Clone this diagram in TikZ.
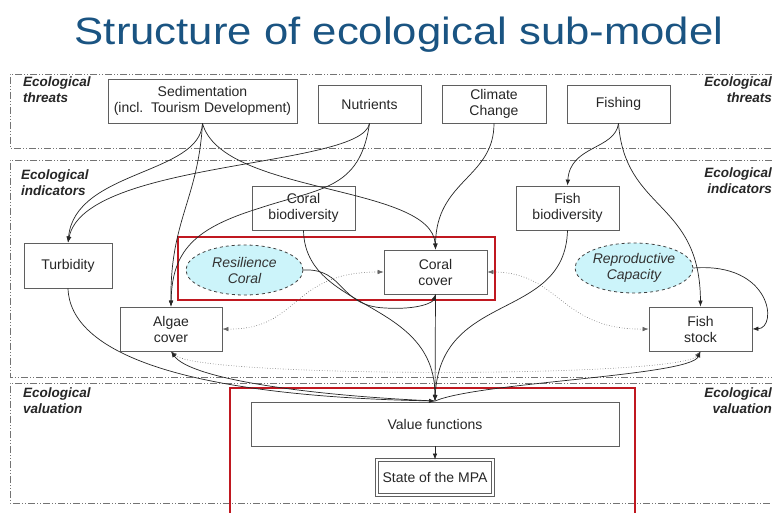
\documentclass[tikz,border=0pt]{standalone}
\usepackage{fontspec}
\setmainfont{Liberation Sans}
\usepackage{graphicx}
\usetikzlibrary{arrows.meta,shapes.geometric}
\definecolor{titleblue}{RGB}{26,84,130}
\definecolor{redbox}{RGB}{192,24,32}
\definecolor{ellfill}{RGB}{204,244,250}
\definecolor{boxgray}{RGB}{95,95,95}
\begin{document}
\begin{tikzpicture}[x=1pt,y=-1pt,
 box/.style={draw=boxgray, line width=0.8pt, fill=white, align=center, text=black!85, font=\fontsize{14}{16}\selectfont, inner sep=0pt},
 ell/.style={ellipse, draw=black!75, dashed, line width=0.8pt, fill=ellfill, align=center, font=\fontsize{14}{16}\selectfont\itshape, text=black!80, inner sep=0pt},
 conn/.style={line width=0.7pt, draw=black!85, -{Latex[length=6pt,width=4.5pt]}},
 dotconn/.style={line width=0.6pt, draw=black!60, dotted, {Latex[length=6pt,width=4.5pt]}-{Latex[length=6pt,width=4.5pt]}},
 band/.style={draw=black!55, line width=0.7pt, dash pattern=on 7pt off 2pt on 1pt off 2pt on 1pt off 2pt},
 lab/.style={font=\fontsize{13.5}{15.5}\selectfont\bfseries\itshape, text=black!85, inner sep=0pt},
 redb/.style={draw=redbox, line width=2.2pt}]
\useasboundingbox (0,0) rectangle (772,513);
\fill[white] (0,0) rectangle (772,513);

% title
\node[anchor=base, font=\fontsize{38}{40}\selectfont, text=titleblue, inner sep=0pt] (title) at (399,45) {\scalebox{1.15}[1]{Structure of ecological sub-model}};

% bands
\draw[band] (772,74) -- (10,74) -- (10,148) -- (772,148);
\draw[band] (772,160) -- (10,160) -- (10,377) -- (772,377);
\draw[band] (772,383) -- (10,383) -- (10,503) -- (772,503);

% band labels
\node[lab, anchor=north west, align=left] (lt) at (23,77) {Ecological\\threats};
\node[lab, anchor=north east, align=right] (rt) at (772,77) {Ecological\\threats};
\node[lab, anchor=north west, align=left] (li) at (21,170) {Ecological\\indicators};
\node[lab, anchor=north east, align=right] (ri) at (772,168) {Ecological\\indicators};
\node[lab, anchor=north west, align=left] (lv) at (23,388) {Ecological\\valuation};
\node[lab, anchor=north east, align=right] (rv) at (772,388) {Ecological\\valuation};

% nodes
\node[box, minimum width=189, minimum height=44] (sed) at (202.5,101) {Sedimentation\\(incl.\ \ Tourism Development)};
\node[box, minimum width=103, minimum height=38] (nut) at (369.5,104) {Nutrients};
\node[box, minimum width=104, minimum height=38] (cli) at (494,104) {Climate\\Change};
\node[box, minimum width=103, minimum height=38] (fish) at (618.5,104) {Fishing};
\node[box, minimum width=88, minimum height=45] (turb) at (68,265.5) {Turbidity};
\node[box, minimum width=103, minimum height=44] (cbio) at (303.5,208) {Coral\\biodiversity};
\node[box, minimum width=103, minimum height=44] (fbio) at (567.5,208) {Fish\\biodiversity};
\node[ell, minimum width=117, minimum height=50] (res) at (244.5,270) {Resilience\\Coral};
\node[box, minimum width=103, minimum height=44] (ccov) at (435.5,272) {Coral\\cover};
\node[ell, minimum width=118, minimum height=50] (rep) at (634,268) {Reproductive\\Capacity};
\node[box, minimum width=102, minimum height=44] (alg) at (171,329) {Algae\\cover};
\node[box, minimum width=103, minimum height=44] (fstock) at (700.5,329) {Fish\\stock};
\node[box, minimum width=368, minimum height=44] (vf) at (435,424) {Value functions};
\node[box, minimum width=116, minimum height=35, double=white, double distance=2pt] (mpa) at (435,477.5) {State of the MPA};
\coordinate (hub) at (435,401);

% red frames
\draw[redb] (178,237) rectangle (495,300);
\draw[redb] (230,516) -- (230,388) -- (635,388) -- (635,516);

% threats -> indicators
\draw[conn] (sed.south) .. controls (200,175) and (75,170) .. (turb.north);
\draw[conn] (nut.south) .. controls (362,168) and (85,160) .. (turb.north);
\draw[conn] (sed.south) .. controls (198,200) and (170,220) .. (alg.north);
\draw[conn] (nut.south) .. controls (360,190) and (320,188) .. (260,208) .. controls (195,228) and (172,250) .. (alg.north);
\draw[conn] (sed.south) .. controls (222,195) and (432,184) .. (ccov.north);
\draw[conn] (cli.south) .. controls (494,178) and (436,180) .. (ccov.north);
\draw[conn] (fish.south) .. controls (615,150) and (570,145) .. (fbio.north);
\draw[conn] (fish.south) .. controls (625,212) and (700,200) .. (fstock.north);

% indicators
\draw[conn] (res.east) .. controls (345,268) and (338,306) .. (385,308) .. controls (420,310) and (433,302) .. (ccov.south);
\draw[dotconn] (alg.east) .. controls (300,330) and (290,272) .. (ccov.west);
\draw[dotconn] (ccov.east) .. controls (560,272) and (560,330) .. (fstock.west);
\draw[conn] (rep.east) .. controls (772,262) and (778,328) .. (fstock.east);
\draw[dotconn] (alg.south) .. controls (200,378) and (680,378) .. (fstock.south);

% to the value functions
\draw[conn] (turb.south) .. controls (70,352) and (180,396) .. (hub);
\draw[conn] (cbio.south) .. controls (305,312) and (435,298) .. (hub);
\draw[conn] (ccov.south) -- (hub);
\draw[conn] (fbio.south) .. controls (565,322) and (440,290) .. (hub);
\draw[conn] (hub) .. controls (300,395) and (190,378) .. (alg.south);
\draw[conn] (hub) .. controls (480,382) and (690,376) .. (fstock.south);
\draw[conn] (vf.south) -- (mpa.north);
\end{tikzpicture}
\end{document}
